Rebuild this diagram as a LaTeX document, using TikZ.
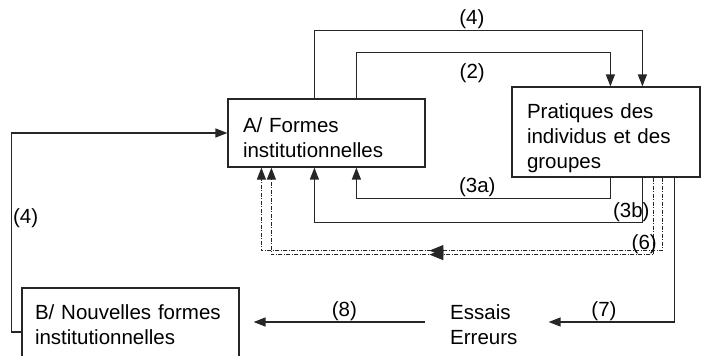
\documentclass[tikz,border=0pt]{standalone}
\usepackage{fontspec}
\setmainfont{Liberation Sans}
\usetikzlibrary{arrows.meta,positioning,calc,decorations.markings}
\newcommand{\padtop}[1]{\rule{0pt}{#1}}

\begin{document}
\begin{tikzpicture}[
  x=1pt, y=-1pt,
  font=\fontsize{20.5}{25}\selectfont,
  box/.style={draw, line width=1.2pt, draw=black!85, align=left, inner xsep=15pt, inner ysep=0pt},
  link/.style={-{Triangle[length=12pt,width=9pt]}, line width=1.3pt, draw=black!85},
  dlink/.style={link, line width=1pt, dash pattern=on 4pt off 1.5pt on 1pt off 1.5pt},
  midtip/.style={postaction={decorate}, decoration={markings, mark=at position #1 with {\arrow{Triangle[length=14pt,width=11pt]}}}},
  tag/.style={inner sep=1pt}
]
\useasboundingbox (0,0) rectangle (702,356);

\node[box, minimum width=197, minimum height=68, text width=167] (A) at (326.5,133) {\padtop{24pt}A/ Formes\\institutionnelles};
\node[box, minimum width=188, minimum height=90, text width=158] (P) at (606,132) {\padtop{27pt}Pratiques des\\individus et des\\groupes};
\node[box, minimum width=217, minimum height=74, text width=191, inner xsep=13pt] (B) at (130.5,325) {B/ Nouvelles formes\\institutionnelles};
\node[anchor=west, align=left, inner sep=1pt] (E) at (449,325) {Essais\\Erreurs};

% A vers les pratiques
\draw[link] ([xshift=87]A.north west) -- ++(0,-68) -| node[tag, pos=0.24, above] {(4)} ([xshift=131]P.north west);
\draw[link] ([xshift=129]A.north west) -- ++(0,-46) -| node[tag, pos=0.228, below=10pt] {(2)} ([xshift=99]P.north west);

% retours vers A
\draw[link] ([xshift=99]P.south west) -- ++(0,21) -| node[tag, pos=0.262, above] {(3a)} ([xshift=129]A.south west);
\draw[link] ([xshift=131]P.south west) -- ++(0,45) -| node[tag, pos=0.017, above, inner sep=0pt] {(3b)} ([xshift=87]A.south west);
\draw[dlink, midtip=306pt] ([xshift=151]P.south west) -- ++(0,73) -| ([xshift=34]A.south west);
\draw[dlink, midtip=301pt] ([xshift=142]P.south west) -- ++(0,77) -| node[pos=0.012, anchor=south, inner sep=0pt] {(6)} ([xshift=44]A.south west);

% essais et erreurs
\draw[link, shorten >=30pt] ([xshift=163]P.south west) |- node[tag, pos=0.726, above] {(7)} ([yshift=3]E.east);
\draw[link, shorten <=24pt, shorten >=14pt] ([yshift=3]E.west) -- node[tag, above] {(8)} ([yshift=3]E.west -| B.east);
\draw[link] ([yshift=-7]B.west) -- ++(-10,0) |- node[tag, pos=0.286, right] {(4)} (A.west);

\end{tikzpicture}
\end{document}
